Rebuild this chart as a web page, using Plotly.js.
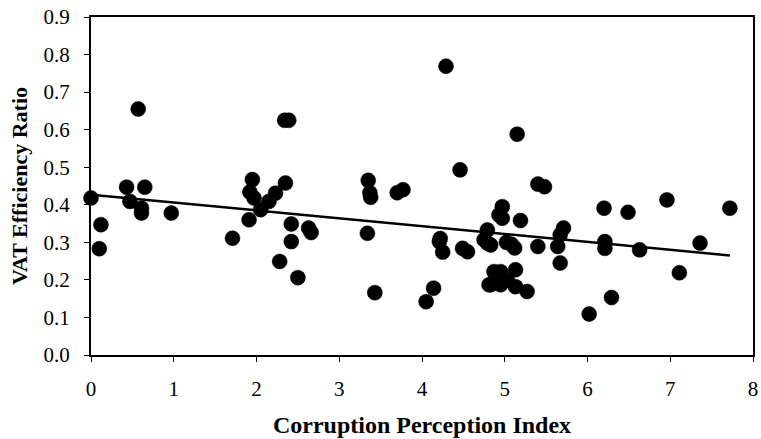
<!DOCTYPE html>
<html>
<head>
<meta charset="utf-8">
<script src="https://cdn.plot.ly/plotly-3.0.1.min.js"></script>
<style>html,body{margin:0;padding:0;background:#fff;}#chart{width:761px;height:439px;}</style>
</head>
<body>
<div id="chart"></div>
<script>
// Corruption Perception Index (x) vs VAT Efficiency Ratio (y)
var cpi = [
  0.00, 0.12, 0.10, 0.43, 0.65, 0.47, 0.61, 0.61, 0.57, 0.97,
  1.71, 1.91, 1.92, 1.97, 1.95, 2.05, 2.15, 2.23, 2.35, 2.34,
  2.39, 2.42, 2.42, 2.28, 2.50, 2.63, 2.66, 3.35, 3.37, 3.38,
  3.34, 3.43, 3.70, 3.77, 4.29, 4.46, 4.05, 4.14, 4.21, 4.22,
  4.25, 4.49, 4.55, 4.75, 4.79, 4.79, 4.83, 4.83, 4.87, 4.93,
  4.97, 4.97, 4.95, 4.95, 5.02, 5.08, 5.12, 5.13, 5.13, 5.15,
  5.19, 5.27, 5.40, 5.48, 5.40, 5.64, 5.67, 5.71, 5.67, 6.02,
  6.20, 6.21, 6.21, 6.29, 6.49, 6.63, 6.96, 7.11, 7.36, 7.72,
  5.03, 4.81
];
var vatRatio = [
  0.418, 0.347, 0.283, 0.447, 0.447, 0.409, 0.391, 0.378, 0.655, 0.378,
  0.311, 0.360, 0.434, 0.418, 0.467, 0.387, 0.409, 0.431, 0.458, 0.625,
  0.625, 0.349, 0.302, 0.249, 0.206, 0.338, 0.326, 0.465, 0.432, 0.420,
  0.324, 0.166, 0.432, 0.440, 0.769, 0.493, 0.142, 0.178, 0.302, 0.310,
  0.274, 0.284, 0.275, 0.307, 0.333, 0.298, 0.293, 0.187, 0.222, 0.373,
  0.395, 0.364, 0.222, 0.187, 0.300, 0.295, 0.285, 0.227, 0.182, 0.588,
  0.358, 0.169, 0.455, 0.448, 0.289, 0.289, 0.320, 0.338, 0.245, 0.109,
  0.391, 0.302, 0.284, 0.153, 0.380, 0.280, 0.413, 0.219, 0.298, 0.391,
  0.200, 0.187
];
// Fitted trend line, endpoints
var trendX = [0, 7.72];
var trendY = [0.427, 0.265];

var xTicks = [0, 1, 2, 3, 4, 5, 6, 7, 8];
var yTicks = [0.0, 0.1, 0.2, 0.3, 0.4, 0.5, 0.6, 0.7, 0.8, 0.9];
var yTickText = ['0.0','0.1','0.2','0.3','0.4','0.5','0.6','0.7','0.8','0.9'];

var serif = 'Liberation Serif, Times New Roman, serif';

var traces = [
  {
    x: cpi, y: vatRatio, type: 'scatter', mode: 'markers',
    marker: {color: '#000', size: 15, line: {color: '#000', width: 0.5}},
    showlegend: false, hoverinfo: 'x+y', cliponaxis: false
  },
  {
    x: trendX, y: trendY, type: 'scatter', mode: 'lines',
    line: {color: '#000', width: 2.5},
    showlegend: false, hoverinfo: 'skip'
  }
];

var layout = {
  width: 761, height: 439,
  margin: {l: 91, r: 8, t: 17, b: 84},
  paper_bgcolor: '#fff', plot_bgcolor: '#fff',
  showlegend: false,
  xaxis: {
    range: [0, 8], tickvals: xTicks, ticktext: xTicks.map(String),
    showgrid: false, zeroline: false, automargin: false,
    showline: true, linecolor: '#000', linewidth: 2, mirror: true,
    ticks: 'outside', ticklen: 5, tickwidth: 1, tickcolor: '#000',
    tickfont: {family: serif, size: 21, color: '#000'},
    ticklabelstandoff: 9, ticklabeloverflow: 'allow',
    title: {text: '<b>Corruption Perception Index</b>', font: {family: serif, size: 24, color: '#000'}, standoff: 16}
  },
  yaxis: {
    range: [0, 0.9], tickvals: yTicks, ticktext: yTickText,
    showgrid: false, zeroline: false, automargin: false,
    showline: true, linecolor: '#000', linewidth: 2, mirror: true,
    ticks: 'outside', ticklen: 5, tickwidth: 1, tickcolor: '#000',
    tickfont: {family: serif, size: 21, color: '#000'},
    ticklabelstandoff: 10,
    title: {text: '<b>VAT Efficiency Ratio</b>', font: {family: serif, size: 22, color: '#000'}, standoff: 10}
  }
};

Plotly.newPlot('chart', traces, layout, {displayModeBar: false, staticPlot: true});
</script>
</body>
</html>
